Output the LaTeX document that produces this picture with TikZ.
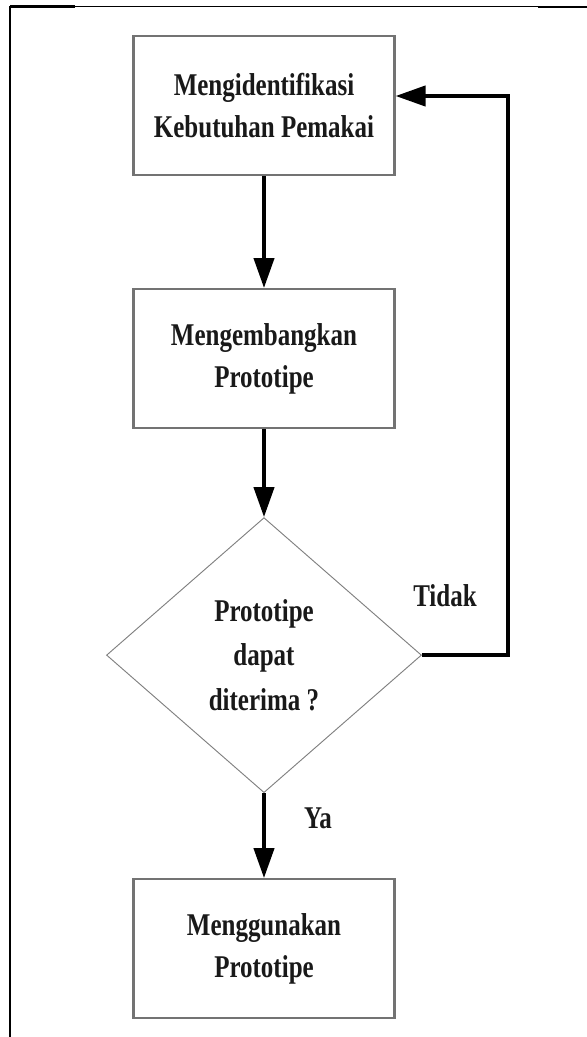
\documentclass[tikz,border=0pt]{standalone}
\usepackage{fontspec}
\newfontfamily\diagfont[FakeStretch=0.79]{Liberation Serif}
\usetikzlibrary{positioning, arrows.meta, shapes.geometric}

\begin{document}
\begin{tikzpicture}[node distance=2.6cm, >=Latex]

\tikzset{
  block/.style={
    rectangle, draw=black!55, line width=1.8pt, align=center,
    minimum height=4.17cm, minimum width=7.83cm,
    inner sep=3pt, text=black!90,
    font=\diagfont\bfseries\fontsize{27}{36}\selectfont
  },
  decision/.style={
    diamond, draw=black!50, line width=0.8pt, align=center,
    minimum height=8.25cm, minimum width=9.45cm,
    inner sep=0pt, text=black!90,
    font=\diagfont\bfseries\fontsize{27}{38}\selectfont
  },
  arrow/.style={-{Triangle[length=0.9cm, width=0.6cm]}, line width=3.5pt},
  lbl/.style={text=black!90, font=\diagfont\bfseries\fontsize{27}{36}\selectfont}
}

\useasboundingbox (0,0) rectangle (17.61,-31.11);

% ==========================
% Bingkai tabel
% ==========================
\draw[line width=1.7pt] (0.3,-0.18) -- (0.3,-31.11);
\draw[line width=1.1pt] (0.3,-0.195) -- (17.61,-0.195);
\draw[line width=2pt] (0.3,-0.2) -- (2.25,-0.2);
\draw[line width=2.2pt] (16.14,-0.21) -- (17.61,-0.21);

% ==========================
% Alur utama
% ==========================
\node[block] (ident) at (7.92,-3.165) {Mengidentifikasi\\Kebutuhan Pemakai};
\node[block, below=3.36cm of ident] (kembang) {Mengembangkan\\Prototipe};
\node[decision, below=2.64cm of kembang] (terima) {Prototipe\\dapat\\diterima ?};
\node[block, below=2.55cm of terima] (guna) {Menggunakan\\Prototipe};

\draw[arrow] (ident) -- (kembang);
\draw[arrow] (kembang) -- (terima);
\draw[arrow] (terima) -- (guna);

% Kembali ke awal bila ditolak
\coordinate (balik) at (15.25,-2.88);
\draw[arrow] (terima.east) -| (balik) -- (balik -| ident.east);

% Label cabang
\node[lbl] (tidak) at (13.35,-17.88) {Tidak};
\node[lbl] (ya) at (9.54,-24.54) {Ya};

\end{tikzpicture}
\end{document}
